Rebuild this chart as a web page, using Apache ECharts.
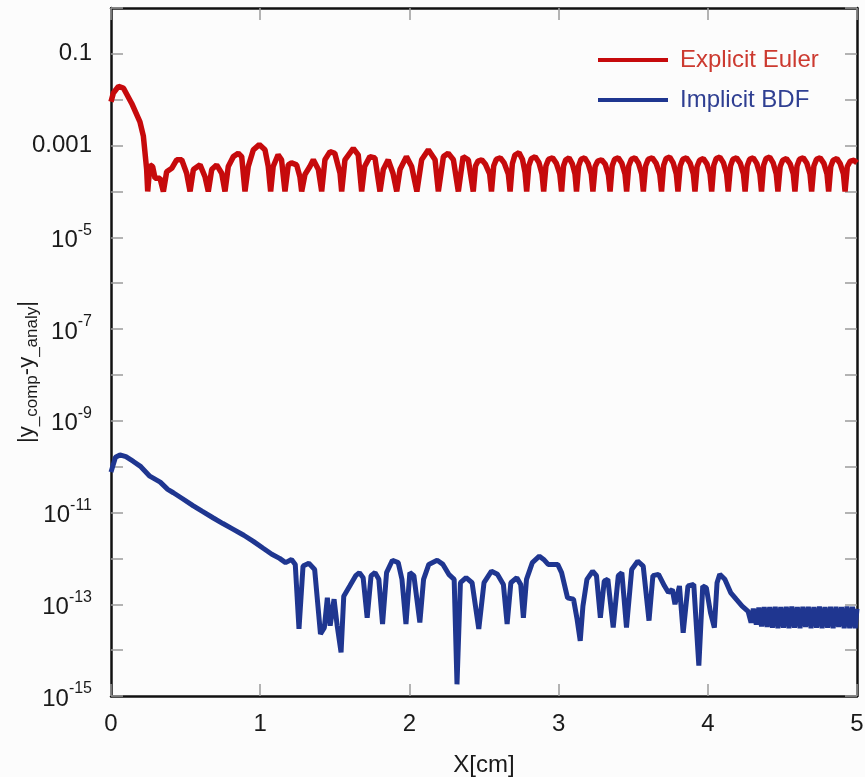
<!DOCTYPE html>
<html>
<head>
<meta charset="utf-8">
<script src="https://cdn.jsdelivr.net/npm/echarts@6/dist/echarts.min.js"></script>
<style>
  html, body { margin: 0; padding: 0; background: #fcfcfc; }
  #chart { width: 865px; height: 777px; }
</style>
</head>
<body>
<div id="chart"></div>
<script>
// Error of the computed solution against the analytical one, along X [cm]
const seriesNames = ['Explicit Euler', 'Implicit BDF'];
const xTicks = [0, 1, 2, 3, 4, 5];
const yRange = [1e-15, 1];

// [x (cm), |y_comp - y_analy|]
const explicitEuler = [
  [0.0, 9.0e-3], [0.016, 1.4e-2], [0.05, 1.95e-2], [0.083, 1.8e-2], [0.139, 8.3e-3], [0.194, 3.3e-3],
  [0.217, 1.6e-3], [0.239, 3.0e-4], [0.246, 1.0e-4], [0.261, 3.8e-4], [0.279, 3.5e-4], [0.295, 1.95e-4],
  [0.328, 1.95e-4], [0.351, 1.0e-4], [0.373, 2.7e-4], [0.407, 3.2e-4], [0.44, 4.9e-4], [0.474, 4.9e-4],
  [0.507, 2.5e-4], [0.53, 1.0e-4], [0.552, 3.0e-4], [0.597, 3.8e-4], [0.63, 2.1e-4], [0.652, 1.0e-4],
  [0.675, 3.0e-4], [0.708, 3.8e-4], [0.742, 2.5e-4], [0.764, 1.0e-4], [0.786, 3.5e-4], [0.82, 5.75e-4],
  [0.853, 6.8e-4], [0.876, 5.75e-4], [0.898, 1.0e-4], [0.92, 3.5e-4], [0.954, 8.1e-4], [0.994, 1.05e-3],
  [1.032, 8.1e-4], [1.054, 3.5e-4], [1.07, 1.0e-4], [1.087, 3.5e-4], [1.12, 6.3e-4], [1.143, 4.9e-4],
  [1.166, 1.0e-4], [1.188, 3.8e-4], [1.21, 4.2e-4], [1.244, 3.8e-4], [1.266, 2.1e-4], [1.278, 1.0e-4],
  [1.30, 2.35e-4], [1.333, 3.5e-4], [1.356, 4.9e-4], [1.39, 3.0e-4], [1.412, 1.0e-4], [1.434, 4.9e-4],
  [1.468, 7.4e-4], [1.50, 6.8e-4], [1.535, 2.5e-4], [1.546, 1.0e-4], [1.568, 4.9e-4], [1.624, 8.7e-4],
  [1.657, 6.3e-4], [1.68, 1.0e-4], [1.70, 3.5e-4], [1.735, 5.75e-4], [1.769, 5.4e-4], [1.803, 1.0e-4],
  [1.825, 3.0e-4], [1.858, 4.9e-4], [1.89, 2.5e-4], [1.915, 1.0e-4], [1.937, 3.0e-4], [1.98, 5.75e-4],
  [2.015, 3.5e-4], [2.05, 1.0e-4], [2.082, 4.9e-4], [2.127, 8.1e-4], [2.172, 4.9e-4], [2.194, 1.0e-4],
  [2.228, 5.75e-4], [2.26, 6.8e-4], [2.295, 4.9e-4], [2.328, 1.0e-4], [2.36, 5.75e-4], [2.395, 4.9e-4],
  [2.428, 1.0e-4],
  [2.443, 3.6e-4], [2.46, 4.6e-4], [2.485, 4.9e-4], [2.51, 3.9e-4], [2.538, 2.4e-4], [2.55, 1.0e-4],
  [2.565, 3.6e-4], [2.582, 5.0e-4], [2.61, 5.4e-4], [2.635, 4.2e-4], [2.663, 2.4e-4], [2.675, 1.0e-4],
  [2.69, 4.0e-4], [2.707, 6.2e-4], [2.735, 7.0e-4], [2.758, 5.0e-4], [2.775, 2.6e-4], [2.786, 1.0e-4],
  [2.80, 3.6e-4], [2.817, 5.2e-4], [2.843, 5.75e-4], [2.868, 4.3e-4], [2.889, 2.4e-4], [2.90, 1.0e-4],
  [2.915, 3.6e-4], [2.932, 5.0e-4], [2.96, 5.4e-4], [2.985, 4.1e-4], [3.008, 2.4e-4], [3.02, 1.0e-4],
  [3.033, 3.6e-4], [3.048, 4.9e-4], [3.07, 5.4e-4], [3.092, 4.0e-4], [3.11, 2.4e-4], [3.12, 1.0e-4],
  [3.134, 3.6e-4], [3.15, 5.0e-4], [3.175, 5.4e-4], [3.198, 4.1e-4], [3.219, 2.4e-4], [3.23, 1.0e-4],
  [3.245, 3.5e-4], [3.262, 4.6e-4], [3.288, 4.9e-4], [3.313, 3.9e-4], [3.334, 2.3e-4], [3.345, 1.0e-4],
  [3.359, 3.6e-4], [3.375, 5.0e-4], [3.40, 5.4e-4], [3.424, 4.1e-4], [3.445, 2.4e-4], [3.456, 1.0e-4],
  [3.47, 3.6e-4], [3.487, 5.0e-4], [3.512, 5.4e-4], [3.536, 4.1e-4], [3.557, 2.4e-4], [3.568, 1.0e-4],
  [3.583, 3.6e-4], [3.60, 5.0e-4], [3.628, 5.4e-4], [3.654, 4.1e-4], [3.678, 2.4e-4], [3.69, 1.0e-4],
  [3.704, 3.7e-4], [3.72, 5.2e-4], [3.745, 5.6e-4], [3.768, 4.2e-4], [3.789, 2.4e-4], [3.80, 1.0e-4],
  [3.815, 3.6e-4], [3.832, 5.0e-4], [3.857, 5.4e-4], [3.882, 4.1e-4], [3.903, 2.4e-4], [3.914, 1.0e-4],
  [3.928, 3.5e-4], [3.945, 4.8e-4], [3.97, 5.2e-4], [3.994, 4.0e-4], [4.015, 2.4e-4], [4.026, 1.0e-4],
  [4.04, 3.7e-4], [4.056, 5.2e-4], [4.081, 5.6e-4], [4.105, 4.2e-4], [4.126, 2.4e-4], [4.137, 1.0e-4],
  [4.152, 3.6e-4], [4.168, 5.0e-4], [4.193, 5.4e-4], [4.218, 4.1e-4], [4.239, 2.4e-4], [4.25, 1.0e-4],
  [4.264, 3.6e-4], [4.28, 5.0e-4], [4.305, 5.4e-4], [4.328, 4.1e-4], [4.349, 2.4e-4], [4.36, 1.0e-4],
  [4.374, 3.7e-4], [4.39, 5.2e-4], [4.415, 5.6e-4], [4.438, 4.2e-4], [4.459, 2.4e-4], [4.47, 1.0e-4],
  [4.485, 3.5e-4], [4.502, 4.8e-4], [4.527, 5.2e-4], [4.552, 4.0e-4], [4.573, 2.4e-4], [4.584, 1.0e-4],
  [4.598, 3.6e-4], [4.614, 5.0e-4], [4.64, 5.4e-4], [4.664, 4.1e-4], [4.685, 2.4e-4], [4.696, 1.0e-4],
  [4.711, 3.6e-4], [4.728, 5.0e-4], [4.753, 5.4e-4], [4.778, 4.1e-4], [4.799, 2.4e-4], [4.81, 1.0e-4],
  [4.824, 3.5e-4], [4.84, 4.8e-4], [4.865, 5.2e-4], [4.888, 4.0e-4], [4.909, 2.4e-4], [4.92, 1.0e-4],
  [4.935, 3.5e-4], [4.955, 4.6e-4], [4.98, 4.8e-4], [5.0, 4.2e-4]
];

const implicitBDF = [
  [0.0, 7.6e-11], [0.03, 1.6e-10], [0.06, 1.8e-10], [0.1, 1.65e-10], [0.15, 1.3e-10], [0.2, 1.0e-10],
  [0.26, 6.2e-11], [0.33, 4.6e-11], [0.38, 3.2e-11], [0.418, 2.7e-11], [0.48, 2.0e-11], [0.552, 1.4e-11],
  [0.61, 1.07e-11], [0.686, 7.6e-12], [0.75, 5.75e-12], [0.82, 4.3e-12], [0.89, 3.2e-12], [0.954, 2.35e-12],
  [1.02, 1.66e-12], [1.078, 1.23e-12], [1.13, 1.0e-12], [1.17, 8.1e-13], [1.21, 9.5e-13], [1.235, 7.4e-13],
  [1.26, 2.9e-14], [1.287, 6.8e-13], [1.326, 7.8e-13], [1.365, 5.75e-13], [1.404, 2.25e-14], [1.43, 3.1e-14],
  [1.45, 1.38e-13], [1.469, 3.4e-14], [1.495, 1.29e-13], [1.516, 3.4e-14], [1.542, 8.9e-15], [1.56, 1.5e-13],
  [1.6, 2.5e-13], [1.64, 4.2e-13], [1.665, 4.9e-13], [1.69, 3.8e-13], [1.717, 5.1e-14], [1.743, 4.2e-13],
  [1.77, 4.9e-13], [1.795, 3.5e-13], [1.82, 3.7e-14], [1.847, 4.9e-13], [1.886, 9.1e-13], [1.925, 8.1e-13],
  [1.95, 3.5e-13], [1.977, 3.7e-14], [2.003, 4.9e-13], [2.03, 4.2e-13], [2.07, 4.0e-14], [2.095, 3.5e-13],
  [2.13, 7.4e-13], [2.186, 9.1e-13], [2.225, 7.4e-13], [2.264, 4.5e-13], [2.30, 3.5e-13], [2.319, 1.8e-15],
  [2.342, 2.95e-13], [2.38, 3.8e-13], [2.42, 2.95e-13], [2.465, 2.9e-14], [2.50, 2.95e-13], [2.55, 5.25e-13],
  [2.59, 4.5e-13], [2.63, 2.7e-13], [2.655, 3.7e-14], [2.68, 2.95e-13], [2.72, 3.8e-13], [2.746, 2.7e-13],
  [2.764, 5.1e-14], [2.785, 3.5e-13], [2.824, 8.1e-13], [2.871, 1.12e-12], [2.90, 9.5e-13], [2.93, 7.4e-13],
  [2.994, 7.4e-13], [3.02, 4.9e-13], [3.06, 1.38e-13], [3.10, 1.29e-13], [3.124, 4.7e-14], [3.145, 1.6e-14],
  [3.163, 9.1e-14], [3.19, 3.5e-13], [3.228, 5.25e-13], [3.254, 4.2e-13], [3.28, 5.1e-14], [3.306, 3.2e-13],
  [3.33, 3.5e-13], [3.366, 3.1e-14], [3.40, 4.2e-13], [3.424, 4.9e-13], [3.455, 3.1e-14], [3.49, 5.75e-13],
  [3.53, 8.7e-13], [3.567, 6.8e-13], [3.606, 4.4e-14], [3.632, 4.2e-13], [3.67, 4.5e-13], [3.71, 2.5e-13],
  [3.736, 1.8e-13], [3.762, 2.1e-13], [3.78, 1.0e-13], [3.81, 2.5e-13], [3.835, 2.4e-14], [3.867, 2.5e-13],
  [3.906, 2.7e-13], [3.94, 4.6e-15], [3.966, 2.5e-13], [3.99, 2.3e-13], [4.018, 6.6e-14], [4.044, 3.1e-14],
  [4.062, 2.95e-13], [4.08, 4.5e-13], [4.114, 3.5e-13], [4.153, 1.8e-13], [4.19, 1.29e-13], [4.23, 9.1e-14],
  [4.27, 7.0e-14], [4.29, 4.0e-14], [4.305, 8.0e-14], [4.325, 3.6e-14], [4.342, 8.5e-14], [4.36, 3.3e-14],
  [4.378, 8.7e-14], [4.397, 3.2e-14], [4.415, 8.7e-14], [4.433, 3.1e-14], [4.452, 8.8e-14], [4.47, 3.0e-14],
  [4.489, 8.7e-14], [4.507, 3.1e-14], [4.526, 8.8e-14], [4.544, 3.0e-14], [4.563, 8.9e-14], [4.581, 3.1e-14],
  [4.6, 8.7e-14], [4.618, 3.0e-14], [4.637, 8.8e-14], [4.655, 3.2e-14], [4.674, 8.8e-14], [4.692, 3.0e-14],
  [4.711, 8.7e-14], [4.729, 3.1e-14], [4.748, 8.9e-14], [4.766, 3.0e-14], [4.785, 8.7e-14], [4.803, 3.1e-14],
  [4.822, 8.8e-14], [4.84, 3.0e-14], [4.859, 8.8e-14], [4.877, 3.2e-14], [4.896, 8.7e-14], [4.914, 3.0e-14],
  [4.933, 8.9e-14], [4.951, 3.0e-14], [4.97, 8.8e-14], [4.988, 3.0e-14], [5.0, 8.0e-14]
];

const FONT = '"Liberation Sans", Arial, Helvetica, sans-serif';
const RED = '#c60a0c';
const BLUE = '#1f3690';

// Decade ticks everywhere; labels only on odd exponents
function yTickLabel(v) {
  const e = Math.round(Math.log10(v));
  if (e % 2 === 0) return '';
  if (e === -1) return '0.1';
  if (e === -3) return '0.001';
  return '{b|10}{s|' + e + '}';
}

const tickStyle = { show: true, inside: true, length: 12, lineStyle: { color: '#9a9a9a', width: 1.5 } };
const frameLine = { show: true, onZero: false, lineStyle: { color: '#111', width: 2.5 } };

const chart = echarts.init(document.getElementById('chart'), null, { renderer: 'canvas' });
chart.setOption({
  backgroundColor: '#fcfcfc',
  animation: false,
  grid: { left: 111, right: 8, top: 8, bottom: 81, containLabel: false, outerBoundsMode: 'none' },
  legend: {
    orient: 'vertical',
    left: 598,
    top: 48,
    itemWidth: 70,
    itemHeight: 4,
    itemGap: 16,
    icon: 'rect',
    padding: 0,
    data: seriesNames,
    formatter: function (name) {
      return (name === seriesNames[0] ? '{r|' : '{b|') + name + '}';
    },
    textStyle: {
      fontFamily: FONT,
      fontSize: 24,
      rich: {
        r: { color: '#cc3a30', fontFamily: FONT, fontSize: 24, padding: [0, 0, 0, 7] },
        b: { color: '#2f3f92', fontFamily: FONT, fontSize: 24, padding: [0, 0, 0, 7] }
      }
    }
  },
  xAxis: [
    {
      type: 'value',
      position: 'bottom',
      min: xTicks[0],
      max: xTicks[xTicks.length - 1],
      interval: 1,
      name: 'X[cm]',
      nameLocation: 'middle',
      nameGap: 57,
      nameTextStyle: { fontFamily: FONT, fontSize: 24, color: '#1a1a1a' },
      axisLine: frameLine,
      axisTick: tickStyle,
      splitLine: { show: false },
      axisLabel: { fontFamily: FONT, fontSize: 24, color: '#1a1a1a', margin: 16 }
    },
    {
      type: 'value',
      position: 'top',
      min: xTicks[0],
      max: xTicks[xTicks.length - 1],
      interval: 1,
      axisLine: frameLine,
      axisTick: tickStyle,
      splitLine: { show: false },
      axisLabel: { show: false }
    }
  ],
  yAxis: [
    {
      type: 'log',
      logBase: 10,
      position: 'left',
      min: yRange[0],
      max: yRange[1],
      interval: 1,
      name: '{n||y}{s|_comp}{n|-y}{s|_analy}{n||}{g| }',
      nameLocation: 'middle',
      nameRotate: 90,
      nameGap: 70,
      nameMoveOverlap: false,
      nameTextStyle: {
        fontFamily: FONT,
        color: '#1a1a1a',
        rich: {
          n: { fontFamily: FONT, fontSize: 22, color: '#1a1a1a', lineHeight: 28, verticalAlign: 'middle' },
          s: { fontFamily: FONT, fontSize: 17, color: '#1a1a1a', lineHeight: 28, verticalAlign: 'bottom' },
          g: { width: 40, fontSize: 10 }
        }
      },
      axisLine: frameLine,
      axisTick: tickStyle,
      splitLine: { show: false },
      axisLabel: {
        fontFamily: FONT,
        fontSize: 24,
        color: '#1a1a1a',
        margin: 19,
        formatter: yTickLabel,
        rich: {
          b: { fontFamily: FONT, fontSize: 24, color: '#1a1a1a', lineHeight: 30, verticalAlign: 'bottom' },
          s: { fontFamily: FONT, fontSize: 16, color: '#1a1a1a', lineHeight: 30, verticalAlign: 'top' }
        }
      }
    },
    {
      type: 'log',
      logBase: 10,
      position: 'right',
      min: yRange[0],
      max: yRange[1],
      interval: 1,
      axisLine: frameLine,
      axisTick: tickStyle,
      splitLine: { show: false },
      axisLabel: { show: false }
    }
  ],
  series: [
    {
      name: seriesNames[0],
      type: 'line',
      data: explicitEuler,
      xAxisIndex: 0,
      yAxisIndex: 0,
      symbol: 'none',
      showSymbol: false,
      color: RED,
      lineStyle: { color: RED, width: 5.5 },
      z: 3
    },
    {
      name: seriesNames[1],
      type: 'line',
      data: implicitBDF,
      xAxisIndex: 0,
      yAxisIndex: 0,
      symbol: 'none',
      showSymbol: false,
      color: BLUE,
      lineStyle: { color: BLUE, width: 5 },
      z: 3
    }
  ]
});
</script>
</body>
</html>
